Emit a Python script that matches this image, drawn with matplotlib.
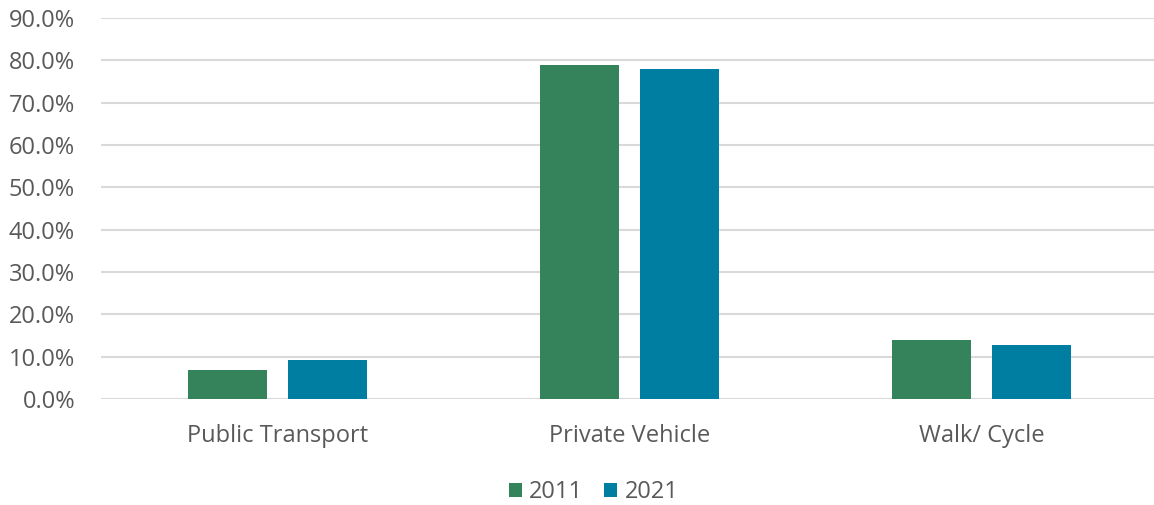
import matplotlib.pyplot as plt
import numpy as np
from matplotlib.ticker import FuncFormatter

plt.rcParams['font.family'] = ['Open Sans', 'DejaVu Sans']

categories = ['Public Transport', 'Private Vehicle', 'Walk/ Cycle']
years = ['2011', '2021']
share_2011 = [6.9, 78.9, 13.9]
share_2021 = [9.2, 77.9, 12.8]
colors = ['#35835A', '#007EA2']

fig = plt.figure(figsize=(11.54, 5.05), dpi=100)
ax = fig.add_axes([101.5/1154, 1-399/505, 1056/1154, 381/505])

x = np.arange(len(categories))
w = 0.2244
off = 0.1428
ax.bar(x - off, share_2011, w, color=colors[0], label=years[0], zorder=3)
ax.bar(x + off, share_2021, w, color=colors[1], label=years[1], zorder=3)

ax.set_xlim(-0.5, 2.5)
ax.set_ylim(0, 90)
ax.set_yticks(np.arange(0, 91, 10))
ax.yaxis.set_major_formatter(FuncFormatter(lambda v, p: f'{v:.1f}%'))
ax.set_xticks(x)
ax.set_xticklabels(categories)
ax.grid(axis='y', color='#D9D9D9', linewidth=1.5, zorder=0)
for s in ax.spines.values():
    s.set_visible(False)
ax.tick_params(length=0, labelsize=17, colors='#595959')
ax.tick_params(axis='x', pad=18)
ax.tick_params(axis='y', pad=19)

ax.legend(loc='center', bbox_to_anchor=(0.466, -0.245), ncol=2, frameon=False,
          fontsize=17, labelcolor='#595959', handlelength=0.55, handleheight=0.55,
          handletextpad=0.3, columnspacing=0.9)

fig.savefig('out.png', dpi=100)
